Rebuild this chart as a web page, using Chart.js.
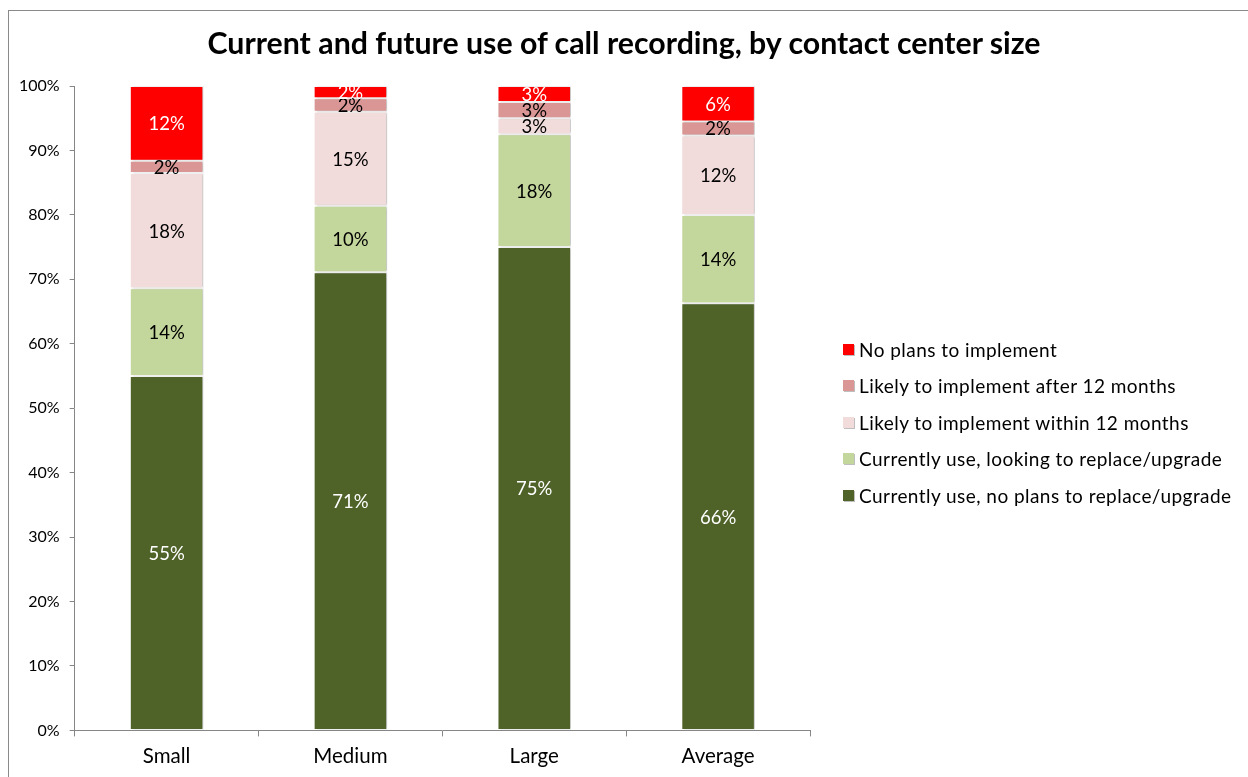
<!DOCTYPE html>
<html>
<head>
<meta charset="utf-8">
<script src="https://cdn.jsdelivr.net/npm/chart.js@4.4.1/dist/chart.umd.min.js"></script>
<style>
  html, body { margin:0; padding:0; background:#fff; overflow:hidden; }
  #wrap { position:relative; width:1248px; height:777px; }
  #frame { position:absolute; left:8px; top:10px; width:1300px; height:800px; border:1px solid #8a8a8a; box-sizing:border-box; }
  canvas { position:absolute; left:0; top:0; }
  #title { position:absolute; left:0; top:24px; width:1248px; text-align:center; font-family:Lato, sans-serif; font-weight:bold; font-size:30.3px; line-height:36px; color:#000; white-space:nowrap; }
  #legend { position:absolute; left:843px; top:331px; font-family:Lato, sans-serif; font-size:19px; letter-spacing:0.45px; color:#000; }
  .item { height:36.5px; display:flex; align-items:center; white-space:nowrap; }
  .box { width:11px; height:11px; margin-right:5px; box-shadow:1px 1px 0 rgba(0,0,0,0.25); }
</style>
</head>
<body>
<div id="wrap">
  <div id="frame"></div>
  <canvas id="c" width="1248" height="777"></canvas>
  <div id="title"></div>
  <div id="legend"></div>
</div>
<script>
const chartTitle = 'Current and future use of call recording, by contact center size';
const categories = ['Small', 'Medium', 'Large', 'Average'];
const seriesNames = [
  'Currently use, no plans to replace/upgrade',
  'Currently use, looking to replace/upgrade',
  'Likely to implement within 12 months',
  'Likely to implement after 12 months',
  'No plans to implement'
];
const useNoPlans    = [55.0, 71.1, 75.0, 66.3];
const useReplace    = [13.6, 10.3, 17.5, 13.7];
const within12      = [17.9, 14.6, 2.5, 12.3];
const after12       = [1.9, 2.1, 2.5, 2.2];
const noPlans       = [11.6, 1.9, 2.5, 5.5];
const yTicks = [0, 10, 20, 30, 40, 50, 60, 70, 80, 90, 100];

const seriesValues = [useNoPlans, useReplace, within12, after12, noPlans];
const colors = ['#4F6228', '#C3D69B', '#F2DCDB', '#D99694', '#FF0000'];
const labelColors = ['#ffffff', '#000000', '#000000', '#000000', '#ffffff'];

const datasets = seriesValues.map((vals, i) => ({
  label: seriesNames[i],
  data: vals,
  backgroundColor: colors[i],
  borderColor: '#ffffff',
  borderWidth: 1,
  borderSkipped: false,
  barPercentage: 0.4,
  categoryPercentage: 1.0
}));

const shadowPlugin = {
  id: 'shadow',
  beforeDatasetsDraw(chart) {
    const ctx = chart.ctx;
    ctx.save();
    ctx.shadowColor = 'rgba(0,0,0,0.22)';
    ctx.shadowBlur = 2;
    ctx.shadowOffsetX = 2;
    ctx.shadowOffsetY = 0;
  },
  afterDatasetsDraw(chart) {
    chart.ctx.restore();
  }
};

const labelPlugin = {
  id: 'segLabels',
  afterDatasetsDraw(chart) {
    const ctx = chart.ctx;
    ctx.save();
    ctx.font = '18.5px Lato, sans-serif';
    ctx.textAlign = 'center';
    ctx.textBaseline = 'middle';
    chart.data.datasets.forEach((ds, i) => {
      const meta = chart.getDatasetMeta(i);
      meta.data.forEach((bar, j) => {
        const p = bar.getProps(['x', 'y', 'base'], true);
        ctx.fillStyle = labelColors[i];
        ctx.fillText(Math.round(ds.data[j]) + '%', p.x, (p.y + p.base) / 2 + 1);
      });
    });
    ctx.restore();
  }
};

const axisColor = '#868686';

new Chart(document.getElementById('c'), {
  type: 'bar',
  data: { labels: categories, datasets },
  plugins: [shadowPlugin, labelPlugin],
  options: {
    responsive: false,
    animation: false,
    layout: { padding: { left: 9, right: 438, top: 86, bottom: 0 } },
    plugins: {
      legend: { display: false },
      tooltip: { enabled: false },
      title: { display: false }
    },
    scales: {
      x: {
        stacked: true,
        grid: { display: true, drawOnChartArea: false, drawTicks: true, tickLength: 6, color: axisColor, offset: true },
        border: { color: axisColor },
        ticks: { color: '#000', font: { family: 'Lato, sans-serif', size: 20.5 }, padding: 8 }
      },
      y: {
        stacked: true,
        min: 0,
        max: 100,
        afterBuildTicks(scale) { scale.ticks = yTicks.map(v => ({ value: v })); },
        grid: { display: true, drawOnChartArea: false, drawTicks: true, tickLength: 5, color: axisColor },
        border: { color: axisColor },
        ticks: { color: '#000', font: { family: 'Lato, sans-serif', size: 16 }, padding: 10, callback: v => v + '%' }
      }
    }
  }
});

document.getElementById('title').textContent = chartTitle;

const legendEl = document.getElementById('legend');
for (let i = seriesNames.length - 1; i >= 0; i--) {
  const item = document.createElement('div');
  item.className = 'item';
  const box = document.createElement('span');
  box.className = 'box';
  box.style.background = colors[i];
  const txt = document.createElement('span');
  txt.textContent = seriesNames[i];
  item.appendChild(box);
  item.appendChild(txt);
  legendEl.appendChild(item);
}
</script>
</body>
</html>
